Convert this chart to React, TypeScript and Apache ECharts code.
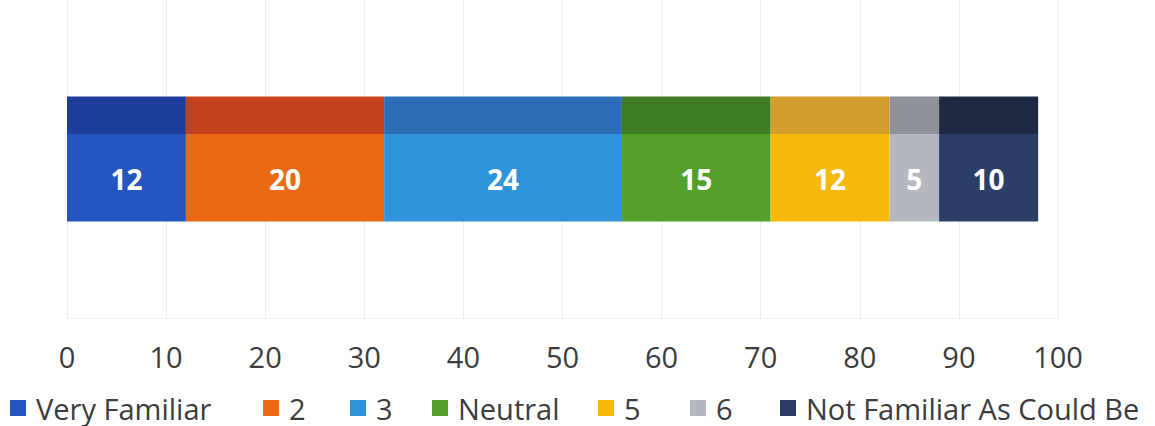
import React, { useEffect, useRef } from "react";
import * as echarts from "echarts";

const categories = ["Familiarity"];
const seriesNames = ["Very Familiar", "2", "3", "Neutral", "5", "6", "Not Familiar As Could Be"];
const seriesValues = [12, 20, 24, 15, 12, 5, 10];
const tickLabels = ["0", "10", "20", "30", "40", "50", "60", "70", "80", "90", "100"];

const mainColors = ["#2456c0", "#ea6a14", "#2f93dc", "#53a02b", "#f6b90c", "#b4b7be", "#2b3e65"];
const topColors = ["#1f3d9d", "#c2421b", "#2c6db5", "#3f7c23", "#d39d2b", "#8e9198", "#202943"];
const legendLefts = [10, 263, 350, 432, 598, 690, 780];

export default function App() {
  const ref = useRef<HTMLDivElement>(null);
  useEffect(() => {
    document.body.style.margin = "0";
    if (!ref.current) return;
    const chart = echarts.init(ref.current, null, { renderer: "svg" });
    const font = "'Open Sans', sans-serif";
    const series = seriesNames.map((name, i) => ({
      name,
      type: "bar",
      stack: "total",
      barWidth: 125,
      data: [seriesValues[i]],
      itemStyle: {
        color: new echarts.graphic.LinearGradient(0, 0, 0, 1, [
          { offset: 0, color: topColors[i] },
          { offset: 0.3, color: topColors[i] },
          { offset: 0.3, color: mainColors[i] },
          { offset: 1, color: mainColors[i] },
        ]),
      },
      label: {
        show: true,
        position: "inside",
        offset: [0, 20],
        color: "#ffffff",
        fontFamily: font,
        fontWeight: "bold",
        fontSize: 28,
      },
    }));
    const legends = seriesNames.map((name, i) => ({
      left: legendLefts[i],
      top: 393,
      icon: "rect",
      itemWidth: 16,
      itemHeight: 16,
      padding: 0,
      data: [{ name, itemStyle: { color: mainColors[i] } }],
      textStyle: {
        fontFamily: font,
        fontSize: 29,
        lineHeight: 30,
        color: "#3c3c3c",
        padding: [0, 0, 0, 5],
      },
    }));
    chart.setOption({
      animation: false,
      grid: { left: 67, right: 97, top: 0, height: 318 },
      legend: legends,
      xAxis: {
        type: "value",
        min: 0,
        max: 100,
        interval: 10,
        axisLine: { show: true, lineStyle: { color: "#f4f1e4" } },
        axisTick: { show: false },
        splitLine: { show: true, lineStyle: { color: "#ededed" } },
        axisLabel: {
          margin: 24,
          fontFamily: font,
          fontSize: 29,
          color: "#3c3c3c",
          formatter: (v: number) => tickLabels[Math.round(v / 10)] ?? String(v),
        },
      },
      yAxis: {
        type: "category",
        data: categories,
        axisLine: { show: false },
        axisTick: { show: false },
        axisLabel: { show: false },
      },
      series,
    });
    return () => chart.dispose();
  }, []);
  return <div ref={ref} style={{ width: 1155, height: 426 }} />;
}
